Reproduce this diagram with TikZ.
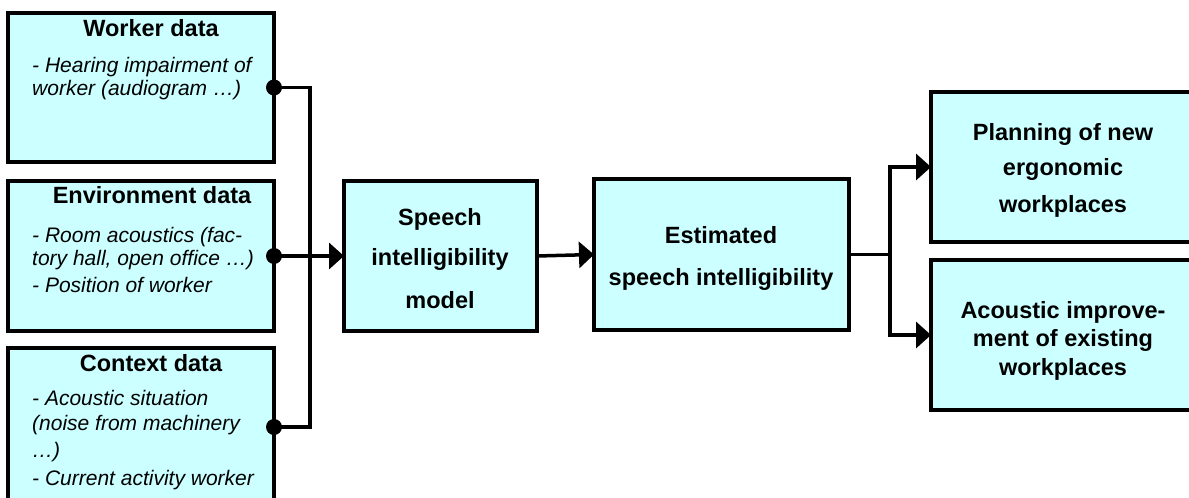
\documentclass[tikz,border=0pt]{standalone}
\usepackage{fontspec}
\setmainfont{Liberation Sans}
\usetikzlibrary{arrows.meta}
\definecolor{boxfill}{HTML}{CCFFFF}
\begin{document}
\begin{tikzpicture}[x=1pt,y=-1pt,
  box/.style={draw=black, line width=3.5pt, fill=boxfill, rectangle, inner sep=0pt, outer sep=0pt},
  ttl/.style={anchor=base, inner sep=0pt, font=\fontsize{23.5}{28}\selectfont\bfseries},
  itm/.style={anchor=base west, inner sep=0pt, font=\fontsize{21}{24}\selectfont\itshape},
  conn/.style={line width=3.5pt},
  arr/.style={line width=3.5pt, -{Triangle[length=15pt,width=26pt]}},
  dotnode/.style={circle, fill=black, inner sep=0pt, minimum size=16pt}]
\useasboundingbox (0,0) rectangle (1189,498);
\clip (0,0) rectangle (1189,498);

% boxes
\node[box, minimum width=266pt, minimum height=149pt] (worker) at (141,87.5) {};
\node[box, minimum width=266pt, minimum height=150pt] (env) at (141,256) {};
\node[box, minimum width=266pt, minimum height=182pt] (ctx) at (141,439) {};
\node[box, minimum width=193pt, minimum height=150pt] (speech) at (440.5,256) {};
\node[box, minimum width=255pt, minimum height=151pt] (est) at (721.5,254.5) {};
\node[box, minimum width=266pt, minimum height=150pt] (plan) at (1064,167) {};
\node[box, minimum width=266pt, minimum height=150pt] (acou) at (1064,335) {};

% texts
\node[ttl] (t1) at (151,36) {Worker data};
\node[itm] (t1a) at (32,72) {- Hearing impairment of};
\node[itm] (t1b) at (32,95) {worker (audiogram …)};

\node[ttl] (t2) at (152,203) {Environment data};
\node[itm] (t2a) at (32,242) {- Room acoustics (fac-};
\node[itm] (t2b) at (32,265) {tory hall, open office …)};
\node[itm] (t2c) at (32,292) {- Position of worker};

\node[ttl] (t3) at (151,371) {Context data};
\node[itm] (t3a) at (32,405) {- Acoustic situation};
\node[itm] (t3b) at (32,430) {(noise from machinery};
\node[itm] (t3c) at (32,457) {…)};
\node[itm] (t3d) at (32,485) {- Current activity worker};

\node[ttl] (s1) at (440,225) {Speech};
\node[ttl] (s2) at (440,265) {intelligibility};
\node[ttl] (s3) at (440,308) {model};

\node[ttl] (e1) at (721,243) {Estimated};
\node[ttl] (e2) at (721,285) {speech intelligibility};

\node[ttl] (p1) at (1063,140) {Planning of new};
\node[ttl] (p2) at (1063,175) {ergonomic};
\node[ttl] (p3) at (1063,212) {workplaces};

\node[ttl] (a1) at (1063,318) {Acoustic improve-};
\node[ttl] (a2) at (1063,346) {ment of existing};
\node[ttl] (a3) at (1063,375) {workplaces};

% connectors
\node[dotnode] (d1) at (worker.east) {};
\node[dotnode] (d2) at (env.east) {};
\node[dotnode] (d3) at (274,427) {};
\coordinate (j1) at (310,87.5);
\coordinate (j3) at (310,427);
\draw[conn] (d1.center) -- (j1) -- (j3) -- (d3.center);
\draw[arr] (d2.center) -- (speech.west);
\draw[arr] (speech.east) -- (est.west);
\coordinate (b) at (890,254.5);
\draw[conn] (est.east) -- (b);
\draw[arr] (b) |- (plan.west);
\draw[arr] (b) |- (acou.west);
\end{tikzpicture}
\end{document}
